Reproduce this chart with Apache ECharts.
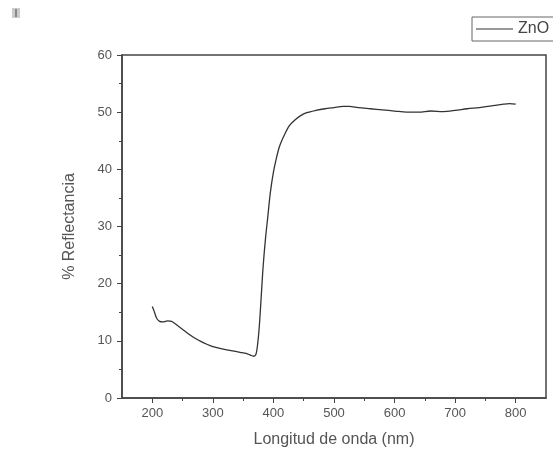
<!DOCTYPE html>
<html>
<head>
<meta charset="utf-8">
<script src="https://cdn.jsdelivr.net/npm/echarts@6/dist/echarts.min.js"></script>
<style>html,body{margin:0;padding:0;background:#fff;}#c{width:553px;height:454px;}</style>
</head>
<body>
<div id="c"></div>
<script>
const wavelength = [200,203,207,212,218,225,232,240,250,260,270,280,290,300,315,330,345,355,362,367,371,374,377,380,383,387,391,395,400,405,410,418,426,435,445,455,470,485,500,515,525,540,560,580,600,620,640,660,680,700,720,740,760,780,790,800];
const reflectance = [16.0,15.2,14.0,13.4,13.3,13.5,13.4,12.8,12.0,11.2,10.5,9.9,9.4,9.0,8.6,8.3,8.0,7.8,7.5,7.3,7.6,9.5,13,18,23,28,32,36,39.5,42,44,46,47.6,48.6,49.4,49.9,50.3,50.6,50.8,51.0,51.0,50.8,50.6,50.4,50.2,50.0,50.0,50.2,50.1,50.3,50.6,50.8,51.1,51.4,51.5,51.4];
const xMajor = [200,300,400,500,600,700,800];
const xMinor = [250,350,450,550,650,750];
const yMinor = [5,15,25,35,45,55];
const seriesName = 'ZnO';
const xTitle = 'Longitud de onda (nm)';
const yTitle = '% Reflectancia';

const axisColor = '#444';
const textColor = '#555';
const font = 'Liberation Sans, Arial, sans-serif';
const chart = echarts.init(document.getElementById('c'));
chart.setOption({
  backgroundColor: '#fff',
  animation: false,
  graphic: [
    {type:'rect', shape:{x:12,y:8,width:8,height:10}, style:{fill:'#ccc'}},
    {type:'rect', shape:{x:15,y:9,width:2,height:8}, style:{fill:'#888'}}
  ],
  legend: {
    left: 472, top: 17,
    padding: [4, 30, 4, 4],
    icon: 'rect',
    itemWidth: 37, itemHeight: 1, itemGap: 4,
    borderColor: '#666', borderWidth: 1,
    textStyle: {color: '#444', fontSize: 16, fontFamily: font},
    data: [seriesName]
  },
  grid: {left:122, top:55, right:7, bottom:56, show:true, borderColor:axisColor, borderWidth:1.5, containLabel:false},
  xAxis: [{
    type:'value', min:150, max:850,
    name: xTitle, nameLocation:'middle', nameGap:34,
    nameTextStyle:{color:textColor, fontSize:16, fontFamily:font},
    axisLine:{show:true, onZero:false, lineStyle:{color:axisColor, width:1.5}},
    axisTick:{show:true, length:5, customValues:xMajor, lineStyle:{color:axisColor}},
    axisLabel:{color:textColor, fontSize:13, fontFamily:font, margin:9, customValues:xMajor},
    splitLine:{show:false}
  },{
    type:'value', min:150, max:850, position:'bottom',
    axisLine:{show:false},
    axisTick:{show:true, length:3, customValues:xMinor, lineStyle:{color:axisColor}},
    axisLabel:{show:false, customValues:xMinor},
    splitLine:{show:false}
  }],
  yAxis: [{
    type:'value', min:0, max:60, interval:10,
    name: yTitle, nameLocation:'middle', nameGap:44,
    nameTextStyle:{color:textColor, fontSize:16, fontFamily:font},
    axisLine:{show:true, onZero:false, lineStyle:{color:axisColor, width:1.5}},
    axisTick:{show:true, length:5, lineStyle:{color:axisColor}},
    axisLabel:{color:textColor, fontSize:13, fontFamily:font, margin:10},
    splitLine:{show:false}
  },{
    type:'value', min:0, max:60, position:'left',
    axisLine:{show:false},
    axisTick:{show:true, length:3, customValues:yMinor, lineStyle:{color:axisColor}},
    axisLabel:{show:false, customValues:yMinor},
    splitLine:{show:false}
  }],
  series: [{
    name: seriesName, type:'line', symbol:'none', smooth:0.3,
    xAxisIndex:0, yAxisIndex:0,
    lineStyle:{color:'#333', width:1.3},
    itemStyle:{color:'#333'},
    data: wavelength.map((w,i)=>[w, reflectance[i]])
  }]
});
</script>
</body>
</html>
